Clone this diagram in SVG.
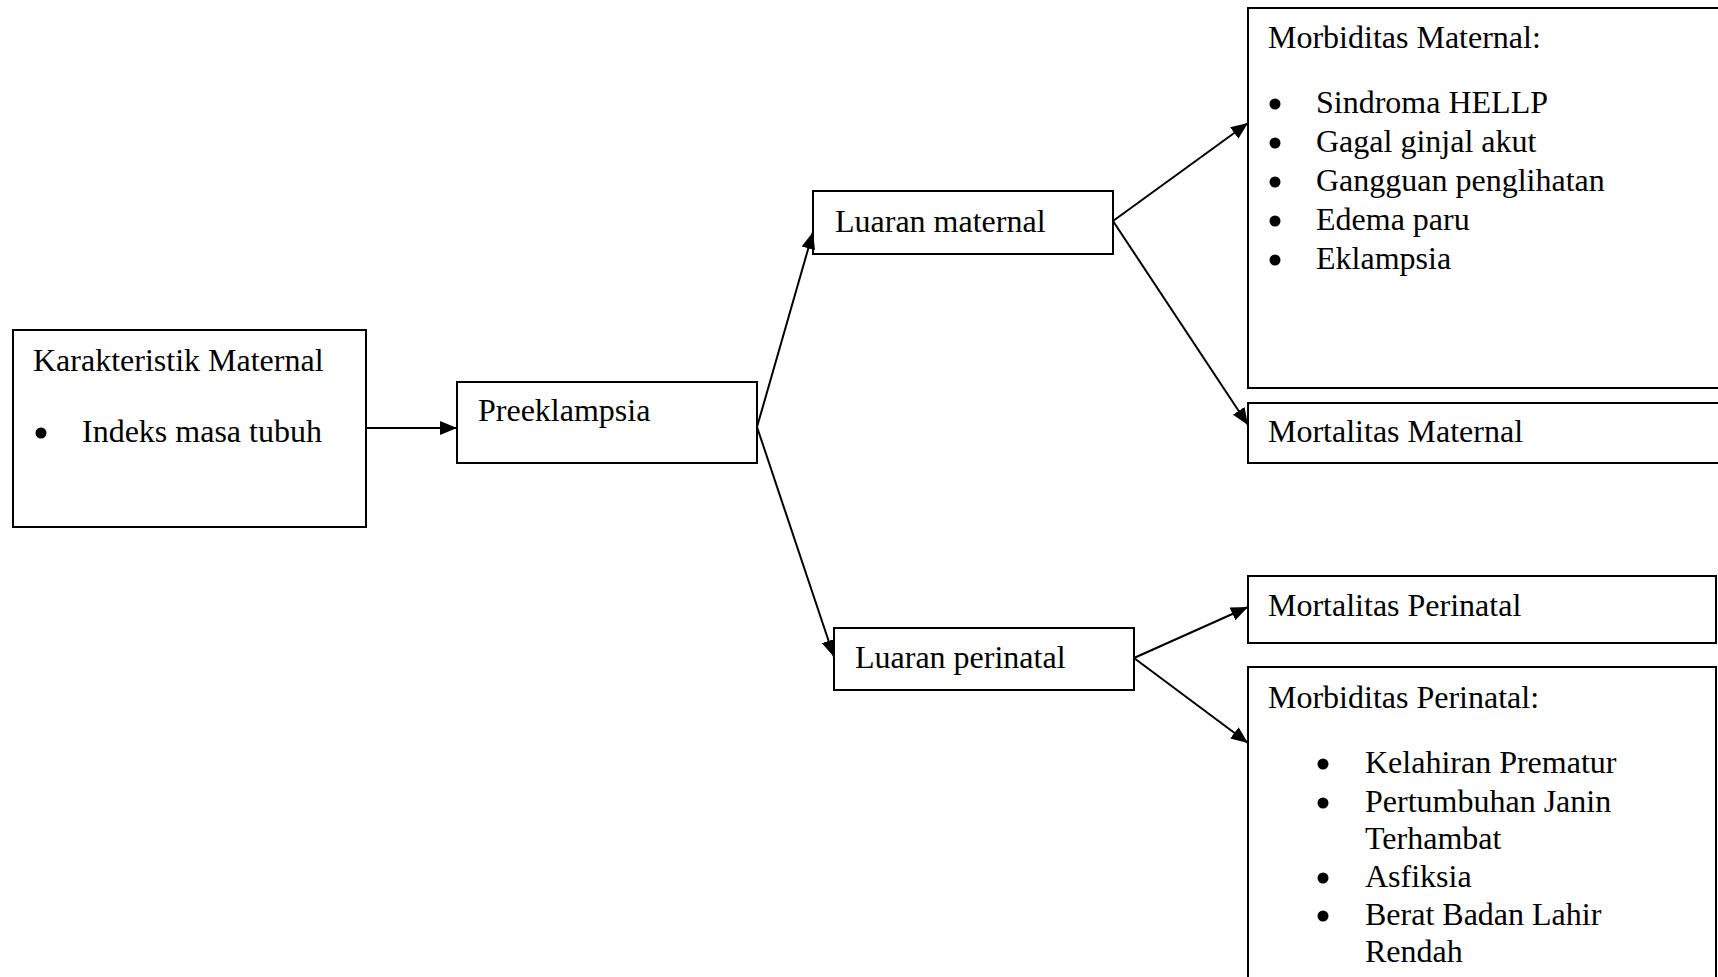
<svg xmlns="http://www.w3.org/2000/svg" width="1718" height="977" viewBox="0 0 1718 977">
<style>
.box{fill:#fff;stroke:#000;stroke-width:2}
.t{font-family:"Liberation Serif","Times New Roman",serif;font-size:32px;fill:#000}
.b{fill:#000}
.c{stroke:#000;stroke-width:2;fill:none;marker-end:url(#ah)}
</style>
<defs>
<marker id="ah" markerUnits="userSpaceOnUse" markerWidth="18" markerHeight="14" refX="17" refY="7" orient="auto">
<path d="M0,0 L17,7 L0,14 Z" fill="#000"/>
</marker>
</defs>
<rect width="1718" height="977" fill="#fff"/>
<g id="karakteristik">
<rect class="box" x="13" y="330" width="353" height="197"/>
<text class="t" x="33" y="371">Karakteristik Maternal</text>
<circle class="b" cx="41" cy="433" r="5.5"/>
<text class="t" x="82" y="442">Indeks masa tubuh</text>
</g>
<g id="preeklampsia">
<rect class="box" x="457" y="382" width="300" height="81"/>
<text class="t" x="478" y="421">Preeklampsia</text>
</g>
<g id="luaran-maternal">
<rect class="box" x="813" y="191" width="300" height="63"/>
<text class="t" x="835" y="232">Luaran maternal</text>
</g>
<g id="luaran-perinatal">
<rect class="box" x="834" y="628" width="300" height="62"/>
<text class="t" x="855" y="668">Luaran perinatal</text>
</g>
<g id="morbiditas-maternal">
<rect class="box" x="1248" y="8" width="490" height="380"/>
<text class="t" x="1268" y="48">Morbiditas Maternal:</text>
<circle class="b" cx="1275" cy="104" r="5.5"/>
<text class="t" x="1316" y="113">Sindroma HELLP</text>
<circle class="b" cx="1275" cy="143" r="5.5"/>
<text class="t" x="1316" y="152">Gagal ginjal akut</text>
<circle class="b" cx="1275" cy="182" r="5.5"/>
<text class="t" x="1316" y="191">Gangguan penglihatan</text>
<circle class="b" cx="1275" cy="221" r="5.5"/>
<text class="t" x="1316" y="230">Edema paru</text>
<circle class="b" cx="1275" cy="260" r="5.5"/>
<text class="t" x="1316" y="269">Eklampsia</text>
</g>
<g id="mortalitas-maternal">
<rect class="box" x="1248" y="403" width="490" height="60"/>
<text class="t" x="1268" y="442">Mortalitas Maternal</text>
</g>
<g id="mortalitas-perinatal">
<rect class="box" x="1248" y="576" width="468" height="67"/>
<text class="t" x="1268" y="616">Mortalitas Perinatal</text>
</g>
<g id="morbiditas-perinatal">
<rect class="box" x="1248" y="667" width="468" height="330"/>
<text class="t" x="1268" y="708">Morbiditas Perinatal:</text>
<circle class="b" cx="1323" cy="764" r="5.5"/>
<text class="t" x="1365" y="773">Kelahiran Prematur</text>
<circle class="b" cx="1323" cy="803" r="5.5"/>
<text class="t" x="1365" y="812">Pertumbuhan Janin</text>
<text class="t" x="1365" y="849">Terhambat</text>
<circle class="b" cx="1323" cy="878" r="5.5"/>
<text class="t" x="1365" y="887">Asfiksia</text>
<circle class="b" cx="1323" cy="916" r="5.5"/>
<text class="t" x="1365" y="925">Berat Badan Lahir</text>
<text class="t" x="1365" y="962">Rendah</text>
</g>
<g id="connectors">
<line class="c" x1="366" y1="428" x2="457" y2="428"/>
<line class="c" x1="757" y1="427" x2="813" y2="232"/>
<line class="c" x1="757" y1="427" x2="834" y2="657"/>
<line class="c" x1="1113" y1="221" x2="1248" y2="123"/>
<line class="c" x1="1113" y1="221" x2="1248" y2="425"/>
<line class="c" x1="1134" y1="658" x2="1248" y2="607"/>
<line class="c" x1="1134" y1="658" x2="1248" y2="743"/>
</g>
</svg>
